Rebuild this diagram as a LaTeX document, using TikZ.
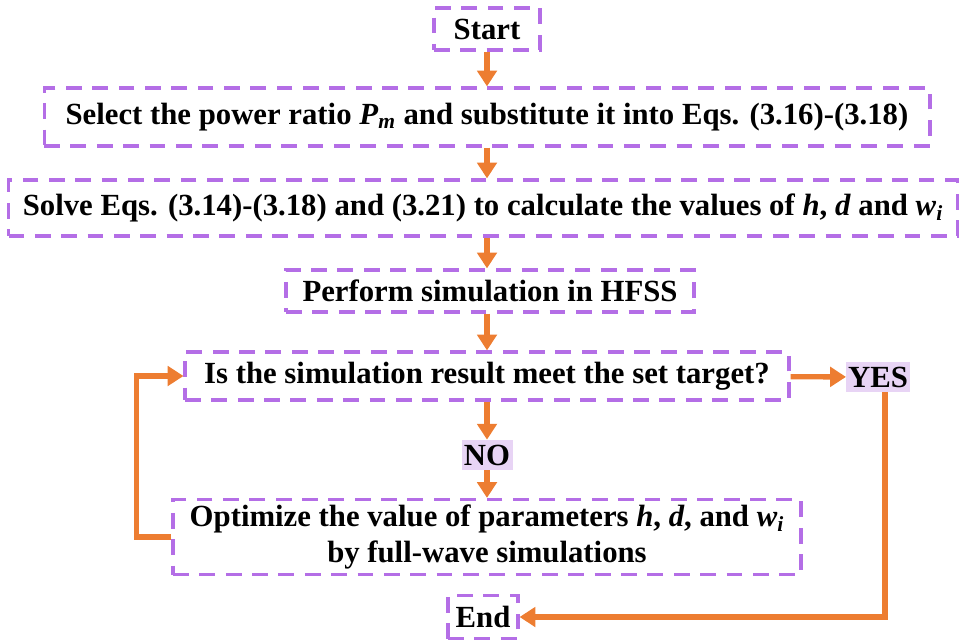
\documentclass[tikz,border=0pt]{standalone}
\usepackage{fontspec}
\setmainfont{Liberation Serif}
\usetikzlibrary{arrows.meta}
\definecolor{boxline}{RGB}{180,110,230}
\definecolor{flow}{RGB}{237,125,49}
\definecolor{tagfill}{RGB}{232,212,245}

\begin{document}
\begin{tikzpicture}[x=0.02cm, y=-0.02cm,
    every node/.style={font=\fontsize{17.5}{20}\selectfont\bfseries, align=center},
    dbox/.style={draw=boxline, line width=1.8pt, dash pattern=on 9pt off 6pt, inner sep=1pt},
    tag/.style={fill=tagfill, inner sep=1pt, minimum height=0.6cm},
    arr/.style={-{Triangle[length=9pt,width=11pt]}, line width=3pt, flow},
  ]
  \useasboundingbox (0,0) rectangle (963,639);

  % === Main column ===
  \node[dbox, minimum width=2.12cm, minimum height=0.84cm] (start) at (487, 29) {Start};
  \node[dbox, minimum width=17.72cm, minimum height=1.16cm] (select) at (487, 117)
    {Select the power ratio \textit{P}\textsubscript{\textit{m}} and substitute it into Eqs. (3.16)-(3.18)};
  \node[dbox, minimum width=18.98cm, minimum height=1.12cm] (solve) at (483, 208)
    {Solve Eqs. (3.14)-(3.18) and (3.21) to calculate the values of \textit{h}, \textit{d} and \textit{w}\textsubscript{\textit{i}}};
  \node[dbox, minimum width=8.16cm, minimum height=0.84cm] (hfss) at (490, 291) {Perform simulation in HFSS};
  \node[dbox, minimum width=12.08cm, minimum height=0.96cm] (check) at (487, 376)
    {Is the simulation result meet the set target?};
  \node[tag, minimum width=1.02cm] (no) at (487, 455) {NO};
  \node[dbox, minimum width=12.56cm, minimum height=1.5cm] (optim) at (487, 537)
    {Optimize the value of parameters \textit{h}, \textit{d}, and \textit{w}\textsubscript{\textit{i}}\\by full-wave simulations};
  \node[dbox, minimum width=1.4cm, minimum height=0.86cm] (end) at (483, 617) {End};

  % === Side tag ===
  \node[tag, minimum width=1.2cm] (yes) at (878, 377) {YES};

  % === Main arrows ===
  \draw[arr] (start) -- (select);
  \draw[arr] (select.south -| start) -- (solve.north -| start);
  \draw[arr] (solve.south -| start) -- (hfss.north -| start);
  \draw[arr] (hfss.south -| start) -- (check);
  \draw[arr] (check) -- (no);
  \draw[arr] (no) -- (optim);

  % === Branches ===
  \draw[arr] (check) -- (yes);
  \draw[arr] (optim.west) -- ++(-35, 0) |- (check.west);
  \draw[arr] ([xshift=4pt]yes.south) |- (end.east);

\end{tikzpicture}
\end{document}
